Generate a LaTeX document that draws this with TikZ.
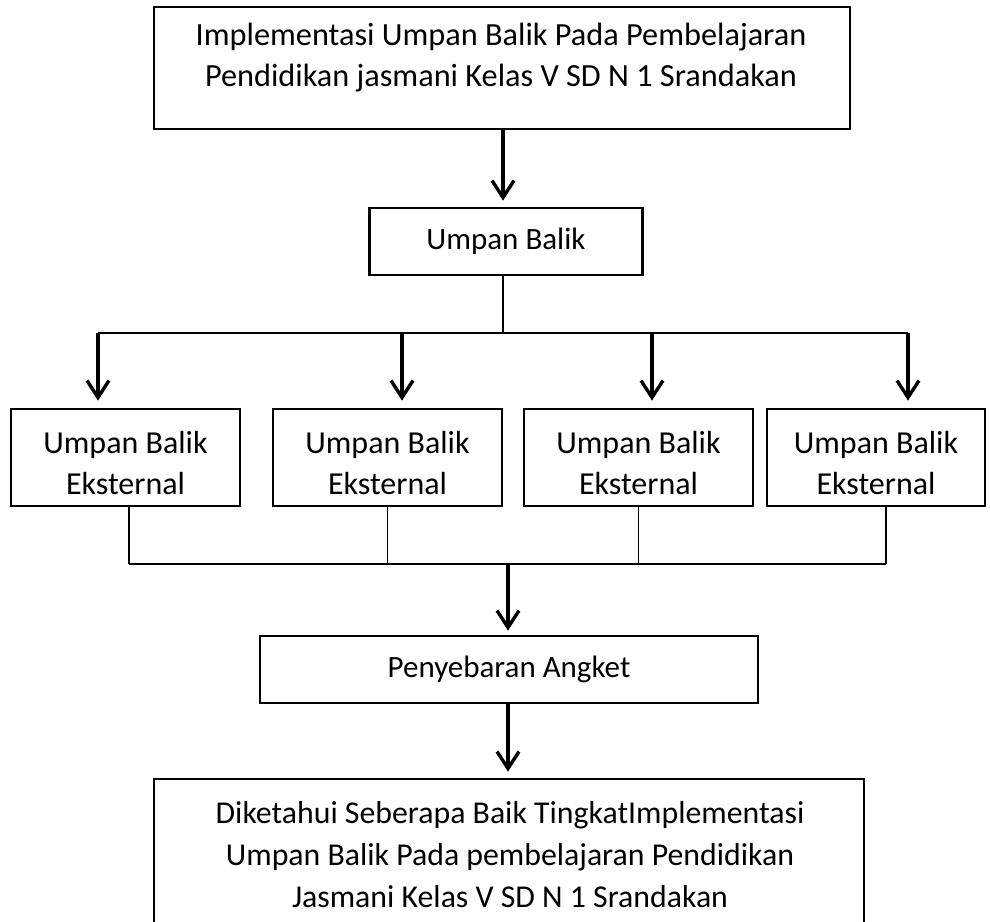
\documentclass[tikz,border=0pt]{standalone}
\usepackage{fontspec}
\setmainfont{Carlito}
\usetikzlibrary{arrows.meta}
\begin{document}
\begin{tikzpicture}[x=1pt,y=-1pt,
  boxnode/.style={draw=black,line width=2.7pt,rectangle,inner sep=0pt,fill=white},
  txt/.style={align=center,inner sep=0pt,font=\fontsize{31}{41}\selectfont},
  thinline/.style={draw=black,line width=1.5pt},
  arr/.style={draw=black,line width=3.4pt,-{Straight Barb[length=17pt,width=22pt,line width=3.4pt]}}]
\clip (0,0) rectangle (990,921);
\fill[white] (0,0) rectangle (990,921);
% top box
\node[boxnode,minimum width=696pt,minimum height=122pt] (top) at (502,68) {};
\node[txt,font=\fontsize{32.3}{41}\selectfont] (toptext) at (501,58) {Implementasi Umpan Balik Pada Pembelajaran\\Pendidikan jasmani Kelas V SD N 1 Srandakan};
% umpan balik
\node[boxnode,minimum width=273pt,minimum height=67pt,txt] (ub) at (506,241.5) {Umpan Balik};
% four boxes
\node[boxnode,minimum width=229pt,minimum height=97pt] (e1) at (125.5,457.5) {};
\node[boxnode,minimum width=229pt,minimum height=97pt] (e2) at (387.5,457.5) {};
\node[boxnode,minimum width=229pt,minimum height=97pt] (e3) at (638.5,457.5) {};
\node[boxnode,minimum width=218pt,minimum height=97pt] (e4) at (876,457.5) {};
\node[txt,font=\fontsize{32}{40}\selectfont] (t1) at (125.5,463) {Umpan Balik\\Eksternal};
\node[txt,font=\fontsize{32}{40}\selectfont] (t2) at (387.5,463) {Umpan Balik\\Eksternal};
\node[txt,font=\fontsize{32}{40}\selectfont] (t3) at (638.5,463) {Umpan Balik\\Eksternal};
\node[txt,font=\fontsize{32}{40}\selectfont] (t4) at (876,463) {Umpan Balik\\Eksternal};
% penyebaran angket
\node[boxnode,minimum width=498pt,minimum height=67pt,txt] (pa) at (509,669.5) {Penyebaran Angket};
% bottom box (cut off by page edge)
\node[boxnode,minimum width=710pt,minimum height=180pt] (res) at (509,869) {};
\node[txt,font=\fontsize{31.8}{42}\selectfont] (restext) at (510,855) {Diketahui Seberapa Baik TingkatImplementasi\\Umpan Balik Pada pembelajaran Pendidikan\\Jasmani Kelas V SD N 1 Srandakan};
% coordinates of the buses
\coordinate (busTop) at (503,333);
\coordinate (bt1) at (98,333);
\coordinate (bt2) at (402,333);
\coordinate (bt3) at (652,333);
\coordinate (bt4) at (908,333);
\coordinate (busBot) at (508,564);
\coordinate (bb1) at (129,564);
\coordinate (bb4) at (886,564);
% connectors
\draw[arr,shorten >=6pt] (top.south -| busTop) -- (busTop |- ub.north);
\draw[thinline] (busTop |- ub.south) -- (busTop);
\draw[thinline] (bt1) -- (bt4);
\draw[arr,shorten >=7pt] (bt1) -- (bt1 |- e1.north);
\draw[arr,shorten >=7pt] (bt2) -- (bt2 |- e2.north);
\draw[arr,shorten >=7pt] (bt3) -- (bt3 |- e3.north);
\draw[arr,shorten >=7pt] (bt4) -- (bt4 |- e4.north);
\draw[thinline] (e1.south -| bb1) -- (bb1);
\draw[thinline] (e2.south) -- (e2.south |- busBot);
\draw[thinline] (e3.south) -- (e3.south |- busBot);
\draw[thinline] (e4.south -| bb4) -- (bb4);
\draw[thinline] (bb1) -- (bb4);
\draw[arr,shorten >=4pt] (busBot) -- (busBot |- pa.north);
\draw[arr,shorten >=6pt] (busBot |- pa.south) -- (busBot |- res.north);
\end{tikzpicture}
\end{document}
